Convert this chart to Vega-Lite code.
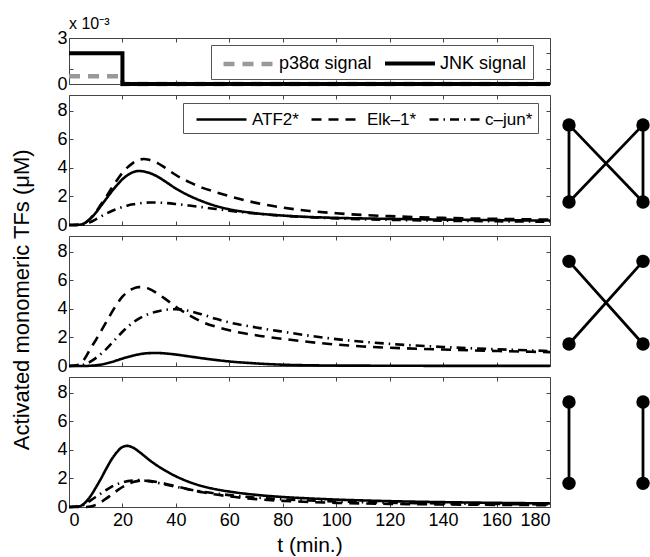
{
  "$schema": "https://vega.github.io/schema/vega-lite/v6.json",
  "padding": {"left": 10, "top": 15, "right": 0, "bottom": 0},
  "background": "white",
  "config": {
    "font": "Liberation Sans",
    "view": {"stroke": "#444", "strokeWidth": 1},
    "axis": {"labelFont": "Liberation Sans", "labelFontSize": 18, "labelColor": "black", "tickColor": "#444", "tickWidth": 1, "grid": false, "domain": false, "titleFont": "Liberation Sans", "titleFontWeight": "normal", "titleColor": "black"},
    "legend": {"labelFont": "Liberation Sans", "labelFontSize": 17, "labelColor": "black", "gridAlign": "none"}
  },
  "datasets": {
    "signals": [
      {"series": "p38α signal", "i": 0, "t": 0, "v": 0.0005},
      {"series": "p38α signal", "i": 1, "t": 20, "v": 0.0005},
      {"series": "p38α signal", "i": 2, "t": 20, "v": 0},
      {"series": "p38α signal", "i": 3, "t": 180, "v": 0},
      {"series": "JNK signal", "i": 0, "t": 0, "v": 0.002},
      {"series": "JNK signal", "i": 1, "t": 20, "v": 0.002},
      {"series": "JNK signal", "i": 2, "t": 20, "v": 0},
      {"series": "JNK signal", "i": 3, "t": 180, "v": 0}
    ],
    "net1": [
      {"series": "ATF2*", "t": 0, "v": 0}, {"series": "ATF2*", "t": 4, "v": 0.02}, {"series": "ATF2*", "t": 6, "v": 0.15}, {"series": "ATF2*", "t": 8, "v": 0.45}, {"series": "ATF2*", "t": 10, "v": 0.85}, {"series": "ATF2*", "t": 12, "v": 1.35}, {"series": "ATF2*", "t": 14, "v": 1.85}, {"series": "ATF2*", "t": 16, "v": 2.35}, {"series": "ATF2*", "t": 18, "v": 2.8}, {"series": "ATF2*", "t": 20, "v": 3.2}, {"series": "ATF2*", "t": 22, "v": 3.5}, {"series": "ATF2*", "t": 24, "v": 3.7}, {"series": "ATF2*", "t": 26, "v": 3.78}, {"series": "ATF2*", "t": 28, "v": 3.75}, {"series": "ATF2*", "t": 30, "v": 3.65}, {"series": "ATF2*", "t": 33, "v": 3.4}, {"series": "ATF2*", "t": 36, "v": 3.05}, {"series": "ATF2*", "t": 40, "v": 2.55}, {"series": "ATF2*", "t": 45, "v": 2.05}, {"series": "ATF2*", "t": 50, "v": 1.65}, {"series": "ATF2*", "t": 55, "v": 1.33}, {"series": "ATF2*", "t": 60, "v": 1.1}, {"series": "ATF2*", "t": 70, "v": 0.82}, {"series": "ATF2*", "t": 80, "v": 0.66}, {"series": "ATF2*", "t": 90, "v": 0.56}, {"series": "ATF2*", "t": 100, "v": 0.5}, {"series": "ATF2*", "t": 110, "v": 0.46}, {"series": "ATF2*", "t": 120, "v": 0.43}, {"series": "ATF2*", "t": 140, "v": 0.38}, {"series": "ATF2*", "t": 160, "v": 0.34}, {"series": "ATF2*", "t": 180, "v": 0.31},
      {"series": "Elk–1*", "t": 0, "v": 0}, {"series": "Elk–1*", "t": 4, "v": 0.02}, {"series": "Elk–1*", "t": 6, "v": 0.15}, {"series": "Elk–1*", "t": 8, "v": 0.45}, {"series": "Elk–1*", "t": 10, "v": 0.9}, {"series": "Elk–1*", "t": 12, "v": 1.45}, {"series": "Elk–1*", "t": 14, "v": 2.0}, {"series": "Elk–1*", "t": 16, "v": 2.6}, {"series": "Elk–1*", "t": 18, "v": 3.15}, {"series": "Elk–1*", "t": 20, "v": 3.65}, {"series": "Elk–1*", "t": 22, "v": 4.05}, {"series": "Elk–1*", "t": 24, "v": 4.35}, {"series": "Elk–1*", "t": 26, "v": 4.55}, {"series": "Elk–1*", "t": 28, "v": 4.62}, {"series": "Elk–1*", "t": 30, "v": 4.56}, {"series": "Elk–1*", "t": 33, "v": 4.35}, {"series": "Elk–1*", "t": 36, "v": 4.0}, {"series": "Elk–1*", "t": 40, "v": 3.5}, {"series": "Elk–1*", "t": 45, "v": 3.0}, {"series": "Elk–1*", "t": 50, "v": 2.6}, {"series": "Elk–1*", "t": 55, "v": 2.3}, {"series": "Elk–1*", "t": 60, "v": 2.02}, {"series": "Elk–1*", "t": 70, "v": 1.55}, {"series": "Elk–1*", "t": 80, "v": 1.22}, {"series": "Elk–1*", "t": 90, "v": 0.98}, {"series": "Elk–1*", "t": 100, "v": 0.82}, {"series": "Elk–1*", "t": 110, "v": 0.7}, {"series": "Elk–1*", "t": 120, "v": 0.62}, {"series": "Elk–1*", "t": 140, "v": 0.5}, {"series": "Elk–1*", "t": 160, "v": 0.43}, {"series": "Elk–1*", "t": 180, "v": 0.38},
      {"series": "c–jun*", "t": 0, "v": 0}, {"series": "c–jun*", "t": 4, "v": 0.0}, {"series": "c–jun*", "t": 6, "v": 0.05}, {"series": "c–jun*", "t": 8, "v": 0.2}, {"series": "c–jun*", "t": 10, "v": 0.4}, {"series": "c–jun*", "t": 12, "v": 0.6}, {"series": "c–jun*", "t": 14, "v": 0.8}, {"series": "c–jun*", "t": 16, "v": 0.98}, {"series": "c–jun*", "t": 18, "v": 1.13}, {"series": "c–jun*", "t": 20, "v": 1.26}, {"series": "c–jun*", "t": 22, "v": 1.37}, {"series": "c–jun*", "t": 24, "v": 1.45}, {"series": "c–jun*", "t": 26, "v": 1.51}, {"series": "c–jun*", "t": 28, "v": 1.55}, {"series": "c–jun*", "t": 30, "v": 1.57}, {"series": "c–jun*", "t": 33, "v": 1.57}, {"series": "c–jun*", "t": 36, "v": 1.54}, {"series": "c–jun*", "t": 40, "v": 1.47}, {"series": "c–jun*", "t": 45, "v": 1.36}, {"series": "c–jun*", "t": 50, "v": 1.24}, {"series": "c–jun*", "t": 55, "v": 1.12}, {"series": "c–jun*", "t": 60, "v": 1.0}, {"series": "c–jun*", "t": 70, "v": 0.8}, {"series": "c–jun*", "t": 80, "v": 0.65}, {"series": "c–jun*", "t": 90, "v": 0.54}, {"series": "c–jun*", "t": 100, "v": 0.46}, {"series": "c–jun*", "t": 110, "v": 0.4}, {"series": "c–jun*", "t": 120, "v": 0.36}, {"series": "c–jun*", "t": 140, "v": 0.3}, {"series": "c–jun*", "t": 160, "v": 0.26}, {"series": "c–jun*", "t": 180, "v": 0.23}
    ],
    "net2": [
      {"series": "ATF2*", "t": 0, "v": 0}, {"series": "ATF2*", "t": 6, "v": 0.0}, {"series": "ATF2*", "t": 8, "v": 0.02}, {"series": "ATF2*", "t": 10, "v": 0.05}, {"series": "ATF2*", "t": 12, "v": 0.1}, {"series": "ATF2*", "t": 14, "v": 0.18}, {"series": "ATF2*", "t": 16, "v": 0.28}, {"series": "ATF2*", "t": 18, "v": 0.4}, {"series": "ATF2*", "t": 20, "v": 0.52}, {"series": "ATF2*", "t": 22, "v": 0.63}, {"series": "ATF2*", "t": 24, "v": 0.73}, {"series": "ATF2*", "t": 26, "v": 0.81}, {"series": "ATF2*", "t": 28, "v": 0.87}, {"series": "ATF2*", "t": 30, "v": 0.9}, {"series": "ATF2*", "t": 33, "v": 0.91}, {"series": "ATF2*", "t": 36, "v": 0.88}, {"series": "ATF2*", "t": 40, "v": 0.8}, {"series": "ATF2*", "t": 45, "v": 0.67}, {"series": "ATF2*", "t": 50, "v": 0.54}, {"series": "ATF2*", "t": 55, "v": 0.42}, {"series": "ATF2*", "t": 60, "v": 0.32}, {"series": "ATF2*", "t": 70, "v": 0.18}, {"series": "ATF2*", "t": 80, "v": 0.09}, {"series": "ATF2*", "t": 90, "v": 0.05}, {"series": "ATF2*", "t": 100, "v": 0.03}, {"series": "ATF2*", "t": 120, "v": 0.02}, {"series": "ATF2*", "t": 140, "v": 0.01}, {"series": "ATF2*", "t": 180, "v": 0.01},
      {"series": "Elk–1*", "t": 0, "v": 0}, {"series": "Elk–1*", "t": 4, "v": 0.1}, {"series": "Elk–1*", "t": 6, "v": 0.55}, {"series": "Elk–1*", "t": 8, "v": 1.2}, {"series": "Elk–1*", "t": 10, "v": 1.8}, {"series": "Elk–1*", "t": 12, "v": 2.45}, {"series": "Elk–1*", "t": 14, "v": 3.1}, {"series": "Elk–1*", "t": 16, "v": 3.75}, {"series": "Elk–1*", "t": 18, "v": 4.35}, {"series": "Elk–1*", "t": 20, "v": 4.85}, {"series": "Elk–1*", "t": 22, "v": 5.2}, {"series": "Elk–1*", "t": 24, "v": 5.42}, {"series": "Elk–1*", "t": 26, "v": 5.52}, {"series": "Elk–1*", "t": 28, "v": 5.5}, {"series": "Elk–1*", "t": 30, "v": 5.4}, {"series": "Elk–1*", "t": 33, "v": 5.08}, {"series": "Elk–1*", "t": 36, "v": 4.7}, {"series": "Elk–1*", "t": 40, "v": 4.15}, {"series": "Elk–1*", "t": 45, "v": 3.55}, {"series": "Elk–1*", "t": 50, "v": 3.07}, {"series": "Elk–1*", "t": 55, "v": 2.75}, {"series": "Elk–1*", "t": 60, "v": 2.5}, {"series": "Elk–1*", "t": 70, "v": 2.15}, {"series": "Elk–1*", "t": 80, "v": 1.9}, {"series": "Elk–1*", "t": 90, "v": 1.68}, {"series": "Elk–1*", "t": 100, "v": 1.5}, {"series": "Elk–1*", "t": 110, "v": 1.37}, {"series": "Elk–1*", "t": 120, "v": 1.28}, {"series": "Elk–1*", "t": 140, "v": 1.15}, {"series": "Elk–1*", "t": 160, "v": 1.05}, {"series": "Elk–1*", "t": 180, "v": 0.97},
      {"series": "c–jun*", "t": 0, "v": 0}, {"series": "c–jun*", "t": 4, "v": 0.02}, {"series": "c–jun*", "t": 6, "v": 0.12}, {"series": "c–jun*", "t": 8, "v": 0.3}, {"series": "c–jun*", "t": 10, "v": 0.55}, {"series": "c–jun*", "t": 12, "v": 0.85}, {"series": "c–jun*", "t": 14, "v": 1.2}, {"series": "c–jun*", "t": 16, "v": 1.6}, {"series": "c–jun*", "t": 18, "v": 2.0}, {"series": "c–jun*", "t": 20, "v": 2.4}, {"series": "c–jun*", "t": 22, "v": 2.75}, {"series": "c–jun*", "t": 24, "v": 3.05}, {"series": "c–jun*", "t": 26, "v": 3.3}, {"series": "c–jun*", "t": 28, "v": 3.5}, {"series": "c–jun*", "t": 30, "v": 3.65}, {"series": "c–jun*", "t": 33, "v": 3.82}, {"series": "c–jun*", "t": 36, "v": 3.93}, {"series": "c–jun*", "t": 40, "v": 3.98}, {"series": "c–jun*", "t": 45, "v": 3.85}, {"series": "c–jun*", "t": 50, "v": 3.6}, {"series": "c–jun*", "t": 55, "v": 3.3}, {"series": "c–jun*", "t": 60, "v": 3.05}, {"series": "c–jun*", "t": 70, "v": 2.7}, {"series": "c–jun*", "t": 80, "v": 2.4}, {"series": "c–jun*", "t": 90, "v": 2.12}, {"series": "c–jun*", "t": 100, "v": 1.88}, {"series": "c–jun*", "t": 110, "v": 1.7}, {"series": "c–jun*", "t": 120, "v": 1.55}, {"series": "c–jun*", "t": 140, "v": 1.33}, {"series": "c–jun*", "t": 160, "v": 1.17}, {"series": "c–jun*", "t": 180, "v": 1.05}
    ],
    "net3": [
      {"series": "ATF2*", "t": 0, "v": 0}, {"series": "ATF2*", "t": 4, "v": 0.05}, {"series": "ATF2*", "t": 6, "v": 0.3}, {"series": "ATF2*", "t": 8, "v": 0.75}, {"series": "ATF2*", "t": 10, "v": 1.35}, {"series": "ATF2*", "t": 12, "v": 2.0}, {"series": "ATF2*", "t": 14, "v": 2.7}, {"series": "ATF2*", "t": 16, "v": 3.35}, {"series": "ATF2*", "t": 18, "v": 3.85}, {"series": "ATF2*", "t": 20, "v": 4.2}, {"series": "ATF2*", "t": 22, "v": 4.28}, {"series": "ATF2*", "t": 24, "v": 4.15}, {"series": "ATF2*", "t": 26, "v": 3.9}, {"series": "ATF2*", "t": 28, "v": 3.6}, {"series": "ATF2*", "t": 30, "v": 3.3}, {"series": "ATF2*", "t": 33, "v": 2.9}, {"series": "ATF2*", "t": 36, "v": 2.55}, {"series": "ATF2*", "t": 40, "v": 2.15}, {"series": "ATF2*", "t": 45, "v": 1.75}, {"series": "ATF2*", "t": 50, "v": 1.45}, {"series": "ATF2*", "t": 55, "v": 1.24}, {"series": "ATF2*", "t": 60, "v": 1.08}, {"series": "ATF2*", "t": 70, "v": 0.85}, {"series": "ATF2*", "t": 80, "v": 0.7}, {"series": "ATF2*", "t": 90, "v": 0.6}, {"series": "ATF2*", "t": 100, "v": 0.52}, {"series": "ATF2*", "t": 110, "v": 0.46}, {"series": "ATF2*", "t": 120, "v": 0.41}, {"series": "ATF2*", "t": 140, "v": 0.34}, {"series": "ATF2*", "t": 160, "v": 0.29}, {"series": "ATF2*", "t": 180, "v": 0.25},
      {"series": "Elk–1*", "t": 0, "v": 0}, {"series": "Elk–1*", "t": 6, "v": 0.0}, {"series": "Elk–1*", "t": 8, "v": 0.03}, {"series": "Elk–1*", "t": 10, "v": 0.15}, {"series": "Elk–1*", "t": 12, "v": 0.35}, {"series": "Elk–1*", "t": 14, "v": 0.6}, {"series": "Elk–1*", "t": 16, "v": 0.88}, {"series": "Elk–1*", "t": 18, "v": 1.15}, {"series": "Elk–1*", "t": 20, "v": 1.4}, {"series": "Elk–1*", "t": 22, "v": 1.6}, {"series": "Elk–1*", "t": 24, "v": 1.75}, {"series": "Elk–1*", "t": 26, "v": 1.83}, {"series": "Elk–1*", "t": 28, "v": 1.85}, {"series": "Elk–1*", "t": 30, "v": 1.83}, {"series": "Elk–1*", "t": 33, "v": 1.75}, {"series": "Elk–1*", "t": 36, "v": 1.63}, {"series": "Elk–1*", "t": 40, "v": 1.45}, {"series": "Elk–1*", "t": 45, "v": 1.23}, {"series": "Elk–1*", "t": 50, "v": 1.03}, {"series": "Elk–1*", "t": 55, "v": 0.87}, {"series": "Elk–1*", "t": 60, "v": 0.74}, {"series": "Elk–1*", "t": 70, "v": 0.55}, {"series": "Elk–1*", "t": 80, "v": 0.43}, {"series": "Elk–1*", "t": 90, "v": 0.35}, {"series": "Elk–1*", "t": 100, "v": 0.29}, {"series": "Elk–1*", "t": 110, "v": 0.25}, {"series": "Elk–1*", "t": 120, "v": 0.22}, {"series": "Elk–1*", "t": 140, "v": 0.18}, {"series": "Elk–1*", "t": 160, "v": 0.15}, {"series": "Elk–1*", "t": 180, "v": 0.13},
      {"series": "c–jun*", "t": 0, "v": 0}, {"series": "c–jun*", "t": 4, "v": 0.05}, {"series": "c–jun*", "t": 6, "v": 0.2}, {"series": "c–jun*", "t": 8, "v": 0.45}, {"series": "c–jun*", "t": 10, "v": 0.7}, {"series": "c–jun*", "t": 12, "v": 0.95}, {"series": "c–jun*", "t": 14, "v": 1.2}, {"series": "c–jun*", "t": 16, "v": 1.42}, {"series": "c–jun*", "t": 18, "v": 1.6}, {"series": "c–jun*", "t": 20, "v": 1.72}, {"series": "c–jun*", "t": 22, "v": 1.81}, {"series": "c–jun*", "t": 24, "v": 1.86}, {"series": "c–jun*", "t": 26, "v": 1.88}, {"series": "c–jun*", "t": 28, "v": 1.86}, {"series": "c–jun*", "t": 30, "v": 1.8}, {"series": "c–jun*", "t": 33, "v": 1.7}, {"series": "c–jun*", "t": 36, "v": 1.58}, {"series": "c–jun*", "t": 40, "v": 1.42}, {"series": "c–jun*", "t": 45, "v": 1.23}, {"series": "c–jun*", "t": 50, "v": 1.07}, {"series": "c–jun*", "t": 55, "v": 0.94}, {"series": "c–jun*", "t": 60, "v": 0.83}, {"series": "c–jun*", "t": 70, "v": 0.66}, {"series": "c–jun*", "t": 80, "v": 0.54}, {"series": "c–jun*", "t": 90, "v": 0.45}, {"series": "c–jun*", "t": 100, "v": 0.39}, {"series": "c–jun*", "t": 110, "v": 0.34}, {"series": "c–jun*", "t": 120, "v": 0.3}, {"series": "c–jun*", "t": 140, "v": 0.25}, {"series": "c–jun*", "t": 160, "v": 0.21}, {"series": "c–jun*", "t": 180, "v": 0.18}
    ],
    "nodes": [
      {"net": "full", "x": 0, "y": 0.77}, {"net": "full", "x": 1, "y": 0.77}, {"net": "full", "x": 0, "y": 0.177}, {"net": "full", "x": 1, "y": 0.177},
      {"net": "cross", "x": 0, "y": 0.805}, {"net": "cross", "x": 1, "y": 0.805}, {"net": "cross", "x": 0, "y": 0.169}, {"net": "cross", "x": 1, "y": 0.169},
      {"net": "parallel", "x": 0, "y": 0.808}, {"net": "parallel", "x": 1, "y": 0.808}, {"net": "parallel", "x": 0, "y": 0.182}, {"net": "parallel", "x": 1, "y": 0.182}
    ],
    "edges": [
      {"net": "full", "x1": 0, "y1": 0.77, "x2": 0, "y2": 0.177},
      {"net": "full", "x1": 1, "y1": 0.77, "x2": 1, "y2": 0.177},
      {"net": "full", "x1": 0, "y1": 0.77, "x2": 1, "y2": 0.177},
      {"net": "full", "x1": 1, "y1": 0.77, "x2": 0, "y2": 0.177},
      {"net": "cross", "x1": 0, "y1": 0.805, "x2": 1, "y2": 0.169},
      {"net": "cross", "x1": 1, "y1": 0.805, "x2": 0, "y2": 0.169},
      {"net": "parallel", "x1": 0, "y1": 0.808, "x2": 0, "y2": 0.182},
      {"net": "parallel", "x1": 1, "y1": 0.808, "x2": 1, "y2": 0.182}
    ]
  },
  "spacing": 0,
  "resolve": {"scale": {"x": "independent", "y": "independent", "strokeDash": "independent", "color": "independent", "strokeWidth": "independent"}, "axis": {"x": "independent", "y": "independent"}, "legend": {"strokeDash": "independent", "color": "independent", "strokeWidth": "independent"}},
  "vconcat": [
    {
      "width": 481, "height": 46,
      "title": {"text": "x 10⁻³", "anchor": "start", "frame": "group", "fontSize": 16, "fontWeight": "normal", "font": "Liberation Sans", "offset": -3, "color": "black"},
      "data": {"name": "signals"},
      "layer": [
        {
          "mark": {"type": "line", "interpolate": "linear"},
          "encoding": {
            "x": {"field": "t", "type": "quantitative", "scale": {"domain": [0, 180], "nice": false}, "axis": {"orient": "bottom", "values": [0, 20, 40, 60, 80, 100, 120, 140, 160, 180], "labels": false, "tickSize": -4, "minExtent": 0, "maxExtent": 0, "title": null}},
            "y": {"field": "v", "type": "quantitative", "scale": {"domain": [0, 0.003], "nice": false}, "axis": {"orient": "left", "values": [0, 0.001, 0.002, 0.003], "labelExpr": "format(datum.value*1000, 'd')", "tickSize": -4, "labelPadding": 6, "minExtent": 16, "maxExtent": 16, "title": " ", "titleFontSize": 22, "titlePadding": 19}},
            "order": {"field": "i", "type": "quantitative"},
            "color": {"field": "series", "type": "nominal", "scale": {"domain": ["p38α signal", "JNK signal"], "range": ["#999999", "#000000"]}, "legend": {"orient": "none", "legendX": 142, "legendY": 7, "direction": "horizontal", "title": null, "strokeColor": "#555", "fillColor": "white", "padding": 6, "symbolType": "M-0.62,0H4.14", "symbolSize": 441, "symbolStrokeWidth": 4.5, "labelFontSize": 18, "columnPadding": 4, "labelOffset": 36}},
            "strokeDash": {"field": "series", "type": "nominal", "scale": {"domain": ["p38α signal", "JNK signal"], "range": [[11, 8], [1, 0]]}, "legend": {"orient": "none", "legendX": 142, "legendY": 7, "direction": "horizontal", "title": null, "strokeColor": "#555", "fillColor": "white", "padding": 6, "symbolType": "M-0.62,0H4.14", "symbolSize": 441, "symbolStrokeWidth": 4.5, "labelFontSize": 18, "columnPadding": 4, "labelOffset": 36}},
            "strokeWidth": {"field": "series", "type": "nominal", "scale": {"domain": ["p38α signal", "JNK signal"], "range": [4.5, 4]}, "legend": null}
          }
        },
        {
          "mark": {"type": "line", "opacity": 0},
          "encoding": {
            "x": {"field": "t", "type": "quantitative", "scale": {"domain": [0, 180], "nice": false}, "axis": {"orient": "top", "values": [0, 20, 40, 60, 80, 100, 120, 140, 160, 180], "labels": false, "tickSize": -4, "minExtent": 0, "maxExtent": 0, "title": null}},
            "y": {"field": "v", "type": "quantitative", "scale": {"domain": [0, 0.003], "nice": false}, "axis": {"orient": "right", "values": [0, 0.001, 0.002, 0.003], "labels": false, "tickSize": -4, "minExtent": 0, "maxExtent": 0, "title": null}}
          }
        }
      ],
      "resolve": {"axis": {"x": "independent", "y": "independent"}}
    },
    {
      "title": {"text": "Activated monomeric TFs (μM)", "orient": "left", "anchor": "middle", "fontSize": 22, "fontWeight": "normal", "font": "Liberation Sans", "offset": 19, "dx": 25, "color": "black"},
      "spacing": 0,
      "resolve": {"scale": {"x": "independent", "y": "independent", "strokeDash": "independent"}, "axis": {"x": "independent", "y": "independent"}, "legend": {"strokeDash": "independent"}},
      "vconcat": [
        {
          "hconcat": [
            {
              "width": 481, "height": 130,
              "data": {"name": "net1"},
              "layer": [
                {
                  "mark": {"type": "line", "interpolate": "monotone", "strokeWidth": 2.6, "color": "black"},
                  "encoding": {
                    "x": {"field": "t", "type": "quantitative", "scale": {"domain": [0, 180], "nice": false}, "axis": {"orient": "bottom", "values": [0, 20, 40, 60, 80, 100, 120, 140, 160, 180], "labels": false, "tickSize": -4, "minExtent": 0, "maxExtent": 0, "title": null}},
                    "y": {"field": "v", "type": "quantitative", "scale": {"domain": [0, 9.1], "nice": false}, "axis": {"orient": "left", "values": [0, 2, 4, 6, 8], "tickSize": -4, "labelPadding": 6, "minExtent": 16, "maxExtent": 16, "title": null}},
                    "strokeDash": {"field": "series", "type": "nominal", "scale": {"domain": ["ATF2*", "Elk–1*", "c–jun*"], "range": [[1, 0], [10, 7], [9, 5, 1.5, 5]]}, "legend": {"orient": "none", "legendX": 114, "legendY": 8, "direction": "horizontal", "title": null, "strokeColor": "#555", "fillColor": "white", "padding": 5, "symbolType": "M-0.3,0H4.7", "symbolSize": 400, "symbolStrokeWidth": 2.6, "symbolStrokeColor": "black", "labelFontSize": 17, "columnPadding": 4, "labelOffset": 41}}
                  }
                },
                {
                  "mark": {"type": "line", "opacity": 0},
                  "encoding": {
                    "x": {"field": "t", "type": "quantitative", "scale": {"domain": [0, 180], "nice": false}, "axis": {"orient": "top", "values": [0, 20, 40, 60, 80, 100, 120, 140, 160, 180], "labels": false, "tickSize": -4, "minExtent": 0, "maxExtent": 0, "title": null}},
                    "y": {"field": "v", "type": "quantitative", "scale": {"domain": [0, 9.1], "nice": false}, "axis": {"orient": "right", "values": [0, 2, 4, 6, 8], "labels": false, "tickSize": -4, "minExtent": 0, "maxExtent": 0, "title": null}}
                  }
                }
              ],
              "resolve": {"axis": {"x": "independent", "y": "independent"}}
            },
            {
              "width": 74, "height": 130,
              "view": {"stroke": null},
              "layer": [
                {
                  "data": {"name": "edges"},
                  "transform": [{"filter": "datum.net == 'full'"}],
                  "mark": {"type": "rule", "strokeWidth": 2.8, "color": "black"},
                  "encoding": {
                    "x": {"field": "x1", "type": "quantitative", "scale": {"domain": [0, 1], "nice": false}, "axis": null},
                    "y": {"field": "y1", "type": "quantitative", "scale": {"domain": [0, 1], "nice": false}, "axis": null},
                    "x2": {"field": "x2"}, "y2": {"field": "y2"}
                  }
                },
                {
                  "data": {"name": "nodes"},
                  "transform": [{"filter": "datum.net == 'full'"}],
                  "mark": {"type": "point", "filled": true, "size": 180, "color": "black", "opacity": 1},
                  "encoding": {
                    "x": {"field": "x", "type": "quantitative", "scale": {"domain": [0, 1], "nice": false}, "axis": null},
                    "y": {"field": "y", "type": "quantitative", "scale": {"domain": [0, 1], "nice": false}, "axis": null}
                  }
                }
              ]
            }
          ],
          "spacing": 19,
          "bounds": "flush",
          "resolve": {"scale": {"x": "independent", "y": "independent"}, "axis": {"x": "independent", "y": "independent"}}
        },
        {
          "hconcat": [
            {
              "width": 481, "height": 130,
              "data": {"name": "net2"},
              "layer": [
                {
                  "mark": {"type": "line", "interpolate": "monotone", "strokeWidth": 2.6, "color": "black"},
                  "encoding": {
                    "x": {"field": "t", "type": "quantitative", "scale": {"domain": [0, 180], "nice": false}, "axis": {"orient": "bottom", "values": [0, 20, 40, 60, 80, 100, 120, 140, 160, 180], "labels": false, "tickSize": -4, "minExtent": 0, "maxExtent": 0, "title": null}},
                    "y": {"field": "v", "type": "quantitative", "scale": {"domain": [0, 9.1], "nice": false}, "axis": {"orient": "left", "values": [0, 2, 4, 6, 8], "tickSize": -4, "labelPadding": 6, "minExtent": 16, "maxExtent": 16, "title": null}},
                    "strokeDash": {"field": "series", "type": "nominal", "scale": {"domain": ["ATF2*", "Elk–1*", "c–jun*"], "range": [[1, 0], [10, 7], [9, 5, 1.5, 5]]}, "legend": null}
                  }
                },
                {
                  "mark": {"type": "line", "opacity": 0},
                  "encoding": {
                    "x": {"field": "t", "type": "quantitative", "scale": {"domain": [0, 180], "nice": false}, "axis": {"orient": "top", "values": [0, 20, 40, 60, 80, 100, 120, 140, 160, 180], "labels": false, "tickSize": -4, "minExtent": 0, "maxExtent": 0, "title": null}},
                    "y": {"field": "v", "type": "quantitative", "scale": {"domain": [0, 9.1], "nice": false}, "axis": {"orient": "right", "values": [0, 2, 4, 6, 8], "labels": false, "tickSize": -4, "minExtent": 0, "maxExtent": 0, "title": null}}
                  }
                }
              ],
              "resolve": {"axis": {"x": "independent", "y": "independent"}}
            },
            {
              "width": 74, "height": 130,
              "view": {"stroke": null},
              "layer": [
                {
                  "data": {"name": "edges"},
                  "transform": [{"filter": "datum.net == 'cross'"}],
                  "mark": {"type": "rule", "strokeWidth": 2.8, "color": "black"},
                  "encoding": {
                    "x": {"field": "x1", "type": "quantitative", "scale": {"domain": [0, 1], "nice": false}, "axis": null},
                    "y": {"field": "y1", "type": "quantitative", "scale": {"domain": [0, 1], "nice": false}, "axis": null},
                    "x2": {"field": "x2"}, "y2": {"field": "y2"}
                  }
                },
                {
                  "data": {"name": "nodes"},
                  "transform": [{"filter": "datum.net == 'cross'"}],
                  "mark": {"type": "point", "filled": true, "size": 180, "color": "black", "opacity": 1},
                  "encoding": {
                    "x": {"field": "x", "type": "quantitative", "scale": {"domain": [0, 1], "nice": false}, "axis": null},
                    "y": {"field": "y", "type": "quantitative", "scale": {"domain": [0, 1], "nice": false}, "axis": null}
                  }
                }
              ]
            }
          ],
          "spacing": 19,
          "bounds": "flush",
          "resolve": {"scale": {"x": "independent", "y": "independent"}, "axis": {"x": "independent", "y": "independent"}}
        },
        {
          "hconcat": [
            {
              "width": 481, "height": 130,
              "data": {"name": "net3"},
              "layer": [
                {
                  "mark": {"type": "line", "interpolate": "monotone", "strokeWidth": 2.6, "color": "black"},
                  "encoding": {
                    "x": {"field": "t", "type": "quantitative", "scale": {"domain": [0, 180], "nice": false}, "axis": {"orient": "bottom", "values": [0, 20, 40, 60, 80, 100, 120, 140, 160, 180], "tickSize": -4, "labelPadding": 8, "title": "t (min.)", "titleFontSize": 21, "titlePadding": 5}},
                    "y": {"field": "v", "type": "quantitative", "scale": {"domain": [0, 9.1], "nice": false}, "axis": {"orient": "left", "values": [0, 2, 4, 6, 8], "tickSize": -4, "labelPadding": 6, "minExtent": 16, "maxExtent": 16, "title": null}},
                    "strokeDash": {"field": "series", "type": "nominal", "scale": {"domain": ["ATF2*", "Elk–1*", "c–jun*"], "range": [[1, 0], [10, 7], [9, 5, 1.5, 5]]}, "legend": null}
                  }
                },
                {
                  "mark": {"type": "line", "opacity": 0},
                  "encoding": {
                    "x": {"field": "t", "type": "quantitative", "scale": {"domain": [0, 180], "nice": false}, "axis": {"orient": "top", "values": [0, 20, 40, 60, 80, 100, 120, 140, 160, 180], "labels": false, "tickSize": -4, "minExtent": 0, "maxExtent": 0, "title": null}},
                    "y": {"field": "v", "type": "quantitative", "scale": {"domain": [0, 9.1], "nice": false}, "axis": {"orient": "right", "values": [0, 2, 4, 6, 8], "labels": false, "tickSize": -4, "minExtent": 0, "maxExtent": 0, "title": null}}
                  }
                }
              ],
              "resolve": {"axis": {"x": "independent", "y": "independent"}}
            },
            {
              "width": 74, "height": 130,
              "view": {"stroke": null},
              "layer": [
                {
                  "data": {"name": "edges"},
                  "transform": [{"filter": "datum.net == 'parallel'"}],
                  "mark": {"type": "rule", "strokeWidth": 2.8, "color": "black"},
                  "encoding": {
                    "x": {"field": "x1", "type": "quantitative", "scale": {"domain": [0, 1], "nice": false}, "axis": null},
                    "y": {"field": "y1", "type": "quantitative", "scale": {"domain": [0, 1], "nice": false}, "axis": null},
                    "x2": {"field": "x2"}, "y2": {"field": "y2"}
                  }
                },
                {
                  "data": {"name": "nodes"},
                  "transform": [{"filter": "datum.net == 'parallel'"}],
                  "mark": {"type": "point", "filled": true, "size": 180, "color": "black", "opacity": 1},
                  "encoding": {
                    "x": {"field": "x", "type": "quantitative", "scale": {"domain": [0, 1], "nice": false}, "axis": null},
                    "y": {"field": "y", "type": "quantitative", "scale": {"domain": [0, 1], "nice": false}, "axis": null}
                  }
                }
              ]
            }
          ],
          "spacing": 19,
          "bounds": "flush",
          "resolve": {"scale": {"x": "independent", "y": "independent"}, "axis": {"x": "independent", "y": "independent"}}
        }
      ]
    }
  ]
}
